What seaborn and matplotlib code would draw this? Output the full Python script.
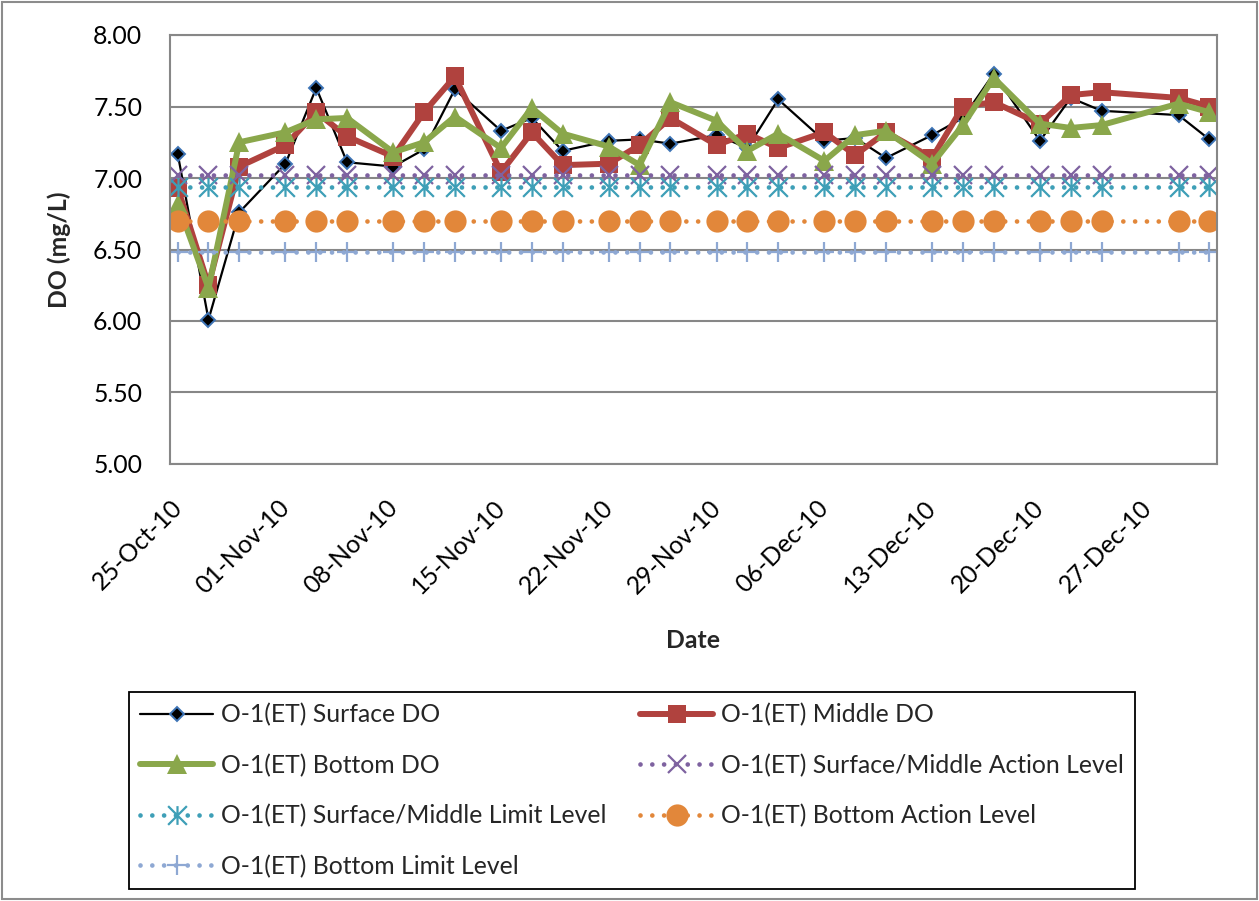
import numpy as np
import pandas as pd
import matplotlib
matplotlib.use("Agg")
import matplotlib.pyplot as plt
import matplotlib.dates as mdates
from matplotlib.path import Path
from matplotlib.patches import Rectangle
from matplotlib.ticker import FormatStrFormatter
import seaborn as sns

# Sampling dates and dissolved oxygen readings (mg/L)
sample_dates = [
    "2010-10-25", "2010-10-27", "2010-10-29", "2010-11-01", "2010-11-03", "2010-11-05",
    "2010-11-08", "2010-11-10", "2010-11-12", "2010-11-15", "2010-11-17", "2010-11-19",
    "2010-11-22", "2010-11-24", "2010-11-26", "2010-11-29", "2010-12-01", "2010-12-03",
    "2010-12-06", "2010-12-08", "2010-12-10", "2010-12-13", "2010-12-15", "2010-12-17",
    "2010-12-20", "2010-12-22", "2010-12-24", "2010-12-29", "2010-12-31",
]
surface_do = [7.17, 6.01, 6.76, 7.10, 7.63, 7.11, 7.08, 7.20, 7.62, 7.33, 7.42, 7.19,
              7.26, 7.27, 7.24, 7.30, 7.21, 7.55, 7.26, 7.28, 7.14, 7.30, 7.42, 7.73,
              7.26, 7.56, 7.47, 7.44, 7.27]
middle_do = [6.93, 6.25, 7.08, 7.23, 7.46, 7.29, 7.15, 7.46, 7.71, 7.04, 7.32, 7.09,
             7.10, 7.23, 7.42, 7.23, 7.31, 7.21, 7.32, 7.16, 7.32, 7.14, 7.50, 7.53,
             7.38, 7.58, 7.60, 7.56, 7.50]
bottom_do = [6.82, 6.23, 7.25, 7.32, 7.41, 7.42, 7.18, 7.25, 7.43, 7.21, 7.49, 7.31,
             7.22, 7.09, 7.53, 7.40, 7.19, 7.31, 7.12, 7.30, 7.33, 7.10, 7.37, 7.70,
             7.38, 7.35, 7.37, 7.52, 7.46]

# Compliance levels (mg/L)
sm_action_level = 7.02
sm_limit_level = 6.94
bottom_action_level = 6.70
bottom_limit_level = 6.48

series_labels = [
    "O-1(ET) Surface DO",
    "O-1(ET) Middle DO",
    "O-1(ET) Bottom DO",
    "O-1(ET) Surface/Middle Action Level",
    "O-1(ET) Surface/Middle Limit Level",
    "O-1(ET) Bottom Action Level",
    "O-1(ET) Bottom Limit Level",
]

n = len(sample_dates)
values = [
    surface_do,
    middle_do,
    bottom_do,
    np.full(n, sm_action_level),
    np.full(n, sm_limit_level),
    np.full(n, bottom_action_level),
    np.full(n, bottom_limit_level),
]

# Readings sit in the middle of their day on the date axis
x_pos = pd.to_datetime(sample_dates) + pd.Timedelta(hours=12)

# Asterisk marker: an X crossed by a vertical bar
star_path = Path(
    [(-0.5, -0.5), (0.5, 0.5), (-0.5, 0.5), (0.5, -0.5), (0, -0.5), (0, 0.5)],
    [Path.MOVETO, Path.LINETO, Path.MOVETO, Path.LINETO, Path.MOVETO, Path.LINETO],
)

dot_style = (0, (0.001, 2.5))
styles = [
    dict(color="black", linewidth=1.6, marker="D", markersize=7.5,
         markerfacecolor="black", markeredgecolor="#3E74B6", markeredgewidth=1.4),
    dict(color="#B0423E", linewidth=4.3, marker="s", markersize=13,
         markerfacecolor="#B0423E", markeredgecolor="#B0423E", markeredgewidth=0),
    dict(color="#8AA74B", linewidth=4.3, marker="^", markersize=15,
         markerfacecolor="#8AA74B", markeredgecolor="#8AA74B", markeredgewidth=0),
    dict(color="#7E62A0", linewidth=3.4, linestyle=dot_style, dash_capstyle="round",
         marker="x", markersize=13.5, markeredgecolor="#7E62A0", markeredgewidth=1.6),
    dict(color="#3E9FB7", linewidth=3.4, linestyle=dot_style, dash_capstyle="round",
         marker=star_path, markersize=13.5, markerfacecolor="none",
         markeredgecolor="#3E9FB7", markeredgewidth=1.6),
    dict(color="#E2873A", linewidth=3.4, linestyle=dot_style, dash_capstyle="round",
         marker="o", markersize=16, markerfacecolor="#E2873A",
         markeredgecolor="#E2873A", markeredgewidth=0),
    dict(color="#8EA8D3", linewidth=3.4, linestyle=dot_style, dash_capstyle="round",
         marker="+", markersize=15, markeredgecolor="#8EA8D3", markeredgewidth=1.6),
]

sns.set_theme(style="white")
plt.rcParams["font.family"] = ["Lato", "DejaVu Sans"]

W, H = 1259, 901
fig = plt.figure(figsize=(W / 100, H / 100), dpi=100)
fig.patch.set_facecolor("white")
ax = fig.add_axes([170 / W, 1 - 464 / H, (1217 - 170) / W, (464 - 35) / H])

for label, vals, st in zip(series_labels, values, styles):
    sns.lineplot(x=x_pos, y=vals, ax=ax, label=label, sort=False, **st)

grid_grey = "#878787"
ax.set_ylim(5, 8)
ax.set_yticks(np.arange(5.0, 8.01, 0.5))
ax.yaxis.set_major_formatter(FormatStrFormatter("%.2f"))
ax.yaxis.grid(True, color=grid_grey, linewidth=1.5)
ax.xaxis.grid(False)
ax.set_axisbelow(True)

ax.set_xlim(pd.Timestamp("2010-10-25"), pd.Timestamp("2011-01-01"))
ax.set_xticks(pd.date_range("2010-10-25", "2010-12-27", freq="7D"))
ax.xaxis.set_major_formatter(mdates.DateFormatter("%d-%b-%y"))

for sp in ax.spines.values():
    sp.set_color(grid_grey)
    sp.set_linewidth(1.5)

tick_fs = 17.8
ax.tick_params(axis="y", length=0, pad=20, labelsize=tick_fs, labelcolor="black")
ax.tick_params(axis="x", direction="out", length=6, width=1.5, color=grid_grey,
               pad=17, labelsize=tick_fs, labelcolor="black")
for lab in ax.get_xticklabels():
    lab.set_rotation(45)
    lab.set_ha("right")
    lab.set_va("top")
    lab.set_rotation_mode("anchor")

ax.set_xlabel("Date", fontsize=tick_fs, fontweight="bold", labelpad=22)
ax.set_ylabel("DO (mg/L)", fontsize=tick_fs, fontweight="bold", labelpad=16)

handles, labels = ax.get_legend_handles_labels()
if ax.get_legend() is not None:
    ax.get_legend().remove()
order = [0, 2, 4, 6, 1, 3, 5]
leg = fig.legend([handles[i] for i in order], [labels[i] for i in order],
                 ncol=2, loc="upper left", bbox_to_anchor=(129 / W, 1 - 692 / H),
                 frameon=True, fancybox=False, framealpha=1, edgecolor="black",
                 fontsize=17.8, handlelength=2.95, handletextpad=0.33,
                 columnspacing=1.35, labelspacing=1.1, borderpad=0.45,
                 borderaxespad=0, numpoints=1)
leg.get_frame().set_linewidth(1.3)

fig.add_artist(Rectangle((2 / W, 2 / H), (W - 4) / W, (H - 4) / H,
                         transform=fig.transFigure, fill=False,
                         edgecolor="#8C8C8C", linewidth=1.5))

fig.savefig("out.png", dpi=100, facecolor="white")
